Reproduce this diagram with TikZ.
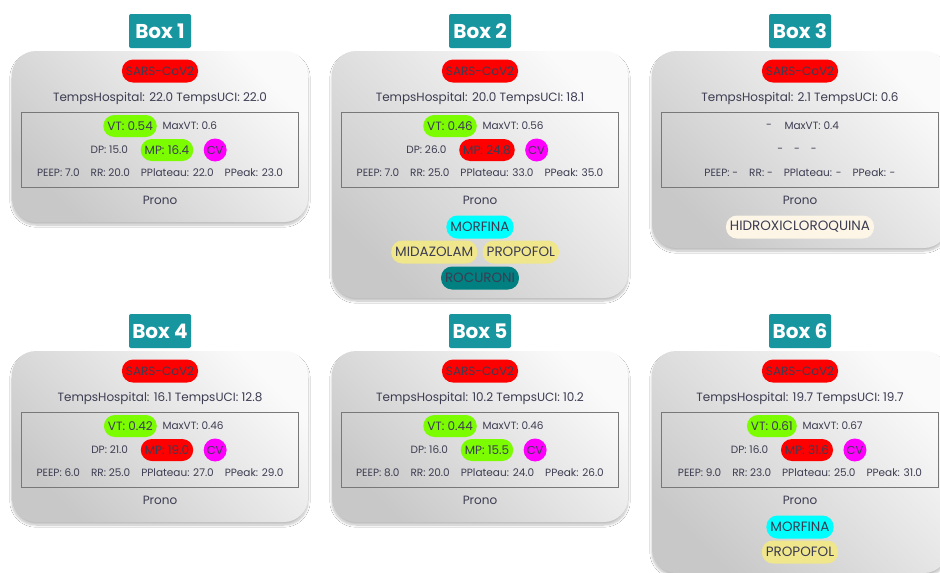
\documentclass[tikz,border=0pt]{standalone}
\usepackage{fontspec}
\setmainfont{Poppins}
\usetikzlibrary{positioning, shadows.blur}
\definecolor{tagteal}{RGB}{23, 150, 160}
\definecolor{inktext}{RGB}{60, 60, 82}
\definecolor{cardlight}{RGB}{250, 250, 250}
\definecolor{carddark}{RGB}{200, 200, 200}
\definecolor{framegray}{RGB}{120, 120, 120}
\definecolor{pillred}{RGB}{255, 0, 0}
\definecolor{pillgreen}{RGB}{124, 252, 0}
\definecolor{pillmagenta}{RGB}{255, 0, 255}
\definecolor{pillcyan}{RGB}{0, 255, 255}
\definecolor{pillkhaki}{RGB}{240, 230, 140}
\definecolor{pillteal}{RGB}{0, 128, 128}
\definecolor{pillcream}{RGB}{253, 245, 230}
\newcommand\rowgap{\hspace{11pt}}
\tikzset{
  card/.style={rounded corners=24pt, top color=cardlight, bottom color=carddark,
    shading angle=-45, minimum width=296pt,
    blur shadow={shadow xshift=0pt, shadow yshift=-3pt, shadow blur steps=10, shadow opacity=25}},
  tag/.style={fill=tagteal, rounded corners=2pt, text=white, inner sep=0pt,
    font=\fontsize{20}{22}\selectfont\bfseries, minimum width=62pt, minimum height=34pt},
  pill/.style={fill=#1, rounded corners=11pt, minimum height=22pt, inner xsep=4pt,
    inner ysep=0pt, text=inktext, font=\fontsize{12}{14}\selectfont},
  drug/.style={pill=#1, minimum height=23pt, font=\fontsize{13.5}{15}\selectfont},
  dot/.style={fill=pillmagenta, circle, minimum size=23pt, inner sep=0pt,
    text=inktext, font=\fontsize{11.5}{13}\selectfont},
  info/.style={text=inktext, font=\fontsize{12}{14}\selectfont},
  small/.style={text=inktext, font=\fontsize{10.5}{12}\selectfont},
  frame/.style={draw=framegray, line width=0.7pt, minimum width=277pt, minimum height=75pt}
}
\begin{document}
\begin{tikzpicture}[x=1pt, y=-1pt]
  \useasboundingbox (0,0) rectangle (940,573);
  \clip (0,0) rectangle (940,573);
  \fill[white] (0,0) rectangle (940,573);

  % Box 1
  \begin{scope}[shift={(160,51)}]
    \node[card, minimum height=171pt] (c1) at (0,85.5) {};
    \node[tag] (t1) at (0,-20) {Box 1};
    \node[pill=pillred, minimum height=23pt] (s1) at (0,20) {SARS-CoV2};
    \node[info] (h1) at (0,47) {TempsHospital: 22.0 TempsUCI: 22.0};
    \node[frame] (f1) at (-0.5,98.5) {};
    \node[pill=pillgreen, anchor=east] (vt1) at (-3,75) {VT: 0.54};
    \node[small, right=2pt of vt1] (mx1) {MaxVT: 0.6};
    \node[pill=pillgreen] (mp1) at (7,99) {MP: 16.4};
    \node[small, left=9pt of mp1] (dp1) {DP: 15.0};
    \node[dot, right=10pt of mp1] (cv1) {CV};
    \node[small] (pr1) at (0,122) {PEEP: 7.0\rowgap RR: 20.0\rowgap PPlateau: 22.0\rowgap PPeak: 23.0};
    \node[info] (pn1) at (0,149) {Prono};
  \end{scope}

  % Box 2
  \begin{scope}[shift={(480,51)}]
    \node[card, minimum height=247pt] (c2) at (0,123.5) {};
    \node[tag] (t2) at (0,-20) {Box 2};
    \node[pill=pillred, minimum height=23pt] (s2) at (0,20) {SARS-CoV2};
    \node[info] (h2) at (0,47) {TempsHospital: 20.0 TempsUCI: 18.1};
    \node[frame] (f2) at (-0.5,98.5) {};
    \node[pill=pillgreen, anchor=east] (vt2) at (-3,75) {VT: 0.46};
    \node[small, right=2pt of vt2] (mx2) {MaxVT: 0.56};
    \node[pill=pillred] (mp2) at (7,99) {MP: 24.8};
    \node[small, left=9pt of mp2] (dp2) {DP: 26.0};
    \node[dot, right=10pt of mp2] (cv2) {CV};
    \node[small] (pr2) at (0,122) {PEEP: 7.0\rowgap RR: 25.0\rowgap PPlateau: 33.0\rowgap PPeak: 35.0};
    \node[info] (pn2) at (0,149) {Prono};
    \node[drug=pillcyan] (mo2) at (0,176) {MORFINA};
    \node[drug=pillkhaki, anchor=east] (mi2) at (-2.5,201) {MIDAZOLAM};
    \node[drug=pillkhaki, anchor=west] (po2) at (2.5,201) {PROPOFOL};
    \node[drug=pillteal] (ro2) at (0,227) {ROCURONI};
  \end{scope}

  % Box 3
  \begin{scope}[shift={(800,51)}]
    \node[card, minimum height=197pt] (c3) at (0,98.5) {};
    \node[tag] (t3) at (0,-20) {Box 3};
    \node[pill=pillred, minimum height=23pt] (s3) at (0,20) {SARS-CoV2};
    \node[info] (h3) at (0,47) {TempsHospital: 2.1 TempsUCI: 0.6};
    \node[frame] (f3) at (-0.5,98.5) {};
    \node[small] (vt3) at (-31,75) {-};
    \node[small, anchor=west] (mx3) at (-19,75) {MaxVT: 0.4};
    \node[small] (dp3) at (-3,99) {-\rowgap-\rowgap-};
    \node[small] (pr3) at (0,122) {PEEP: -\rowgap RR: -\rowgap PPlateau: -\rowgap PPeak: -};
    \node[info] (pn3) at (0,149) {Prono};
    \node[drug=pillcream] (hx3) at (0,176) {HIDROXICLOROQUINA};
  \end{scope}

  % Box 4
  \begin{scope}[shift={(160,351)}]
    \node[card, minimum height=171pt] (c4) at (0,85.5) {};
    \node[tag] (t4) at (0,-20) {Box 4};
    \node[pill=pillred, minimum height=23pt] (s4) at (0,20) {SARS-CoV2};
    \node[info] (h4) at (0,47) {TempsHospital: 16.1 TempsUCI: 12.8};
    \node[frame] (f4) at (-0.5,98.5) {};
    \node[pill=pillgreen, anchor=east] (vt4) at (-3,75) {VT: 0.42};
    \node[small, right=2pt of vt4] (mx4) {MaxVT: 0.46};
    \node[pill=pillred] (mp4) at (7,99) {MP: 19.0};
    \node[small, left=9pt of mp4] (dp4) {DP: 21.0};
    \node[dot, right=10pt of mp4] (cv4) {CV};
    \node[small] (pr4) at (0,122) {PEEP: 6.0\rowgap RR: 25.0\rowgap PPlateau: 27.0\rowgap PPeak: 29.0};
    \node[info] (pn4) at (0,149) {Prono};
  \end{scope}

  % Box 5
  \begin{scope}[shift={(480,351)}]
    \node[card, minimum height=171pt] (c5) at (0,85.5) {};
    \node[tag] (t5) at (0,-20) {Box 5};
    \node[pill=pillred, minimum height=23pt] (s5) at (0,20) {SARS-CoV2};
    \node[info] (h5) at (0,47) {TempsHospital: 10.2 TempsUCI: 10.2};
    \node[frame] (f5) at (-0.5,98.5) {};
    \node[pill=pillgreen, anchor=east] (vt5) at (-3,75) {VT: 0.44};
    \node[small, right=2pt of vt5] (mx5) {MaxVT: 0.46};
    \node[pill=pillgreen] (mp5) at (7,99) {MP: 15.5};
    \node[small, left=9pt of mp5] (dp5) {DP: 16.0};
    \node[dot, right=10pt of mp5] (cv5) {CV};
    \node[small] (pr5) at (0,122) {PEEP: 8.0\rowgap RR: 20.0\rowgap PPlateau: 24.0\rowgap PPeak: 26.0};
    \node[info] (pn5) at (0,149) {Prono};
  \end{scope}

  % Box 6
  \begin{scope}[shift={(800,351)}]
    \node[card, minimum height=222pt] (c6) at (0,111) {};
    \node[tag] (t6) at (0,-20) {Box 6};
    \node[pill=pillred, minimum height=23pt] (s6) at (0,20) {SARS-CoV2};
    \node[info] (h6) at (0,47) {TempsHospital: 19.7 TempsUCI: 19.7};
    \node[frame] (f6) at (-0.5,98.5) {};
    \node[pill=pillgreen, anchor=east] (vt6) at (-3,75) {VT: 0.61};
    \node[small, right=2pt of vt6] (mx6) {MaxVT: 0.67};
    \node[pill=pillred] (mp6) at (7,99) {MP: 31.6};
    \node[small, left=9pt of mp6] (dp6) {DP: 16.0};
    \node[dot, right=10pt of mp6] (cv6) {CV};
    \node[small] (pr6) at (0,122) {PEEP: 9.0\rowgap RR: 23.0\rowgap PPlateau: 25.0\rowgap PPeak: 31.0};
    \node[info] (pn6) at (0,149) {Prono};
    \node[drug=pillcyan] (mo6) at (0,176) {MORFINA};
    \node[drug=pillkhaki] (po6) at (0,201) {PROPOFOL};
  \end{scope}
\end{tikzpicture}
\end{document}
